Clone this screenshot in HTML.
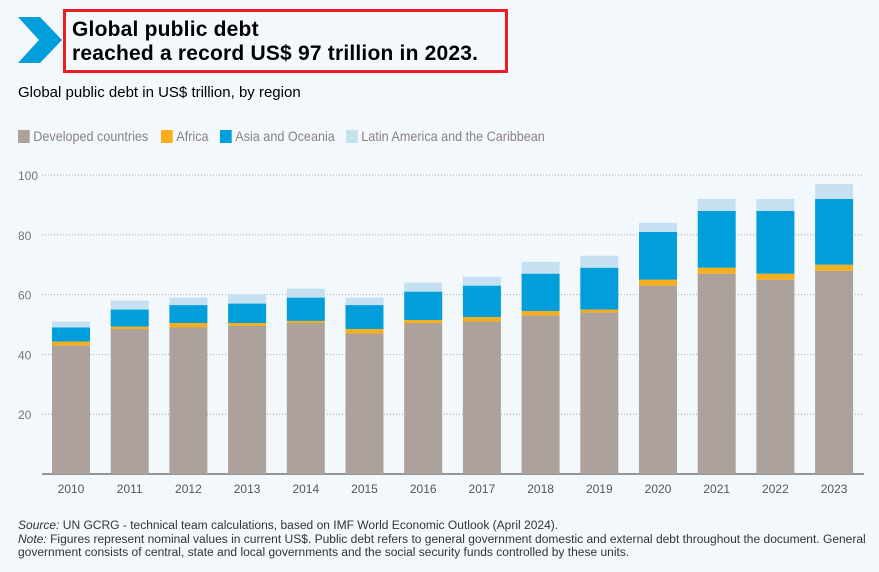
<!DOCTYPE html>
<html><head><meta charset="utf-8"><style>
body{margin:0;width:879px;height:572px;background:#f3f8fc;font-family:"Liberation Sans",sans-serif;overflow:hidden;position:relative}
.abs{position:absolute}
#title{left:63px;top:9px;width:433px;height:58px;border:3px solid #ee1c25;font-weight:bold;font-size:21px;line-height:24px;padding:0 0 0 6px;box-sizing:content-box;letter-spacing:0.2px}
#title div{padding-top:6px}
.leg{position:absolute;top:128px;font-size:14px;color:#8a8180;transform:scaleX(0.9);transform-origin:left}
.sq{display:inline-block;width:13px;height:13px;vertical-align:-2px;margin-right:4px}
.foot{left:18px;font-size:11.5px;color:#333;line-height:13.5px;white-space:nowrap;transform:scaleX(1.045);transform-origin:left}
</style></head><body>
<svg class="abs" style="left:18px;top:17px" width="46" height="48"><polygon points="0,0 22,0 44,23 22,46 0,46 21,23" fill="#009edb"/></svg>
<div id="title" class="abs"><div>Global public debt<br>reached a record US$ 97 trillion in 2023.</div></div>
<div class="abs" style="left:18px;top:84px;font-size:15px">Global public debt in US$ trillion, by region</div>
<div class="leg" style="left:18px"><span class="sq" style="background:#ada19b"></span>Developed countries</div>
<div class="leg" style="left:161px"><span class="sq" style="background:#f9ae1b"></span>Africa</div>
<div class="leg" style="left:220px"><span class="sq" style="background:#009edb"></span>Asia and Oceania</div>
<div class="leg" style="left:346px"><span class="sq" style="background:#c5e0f0"></span>Latin America and the Caribbean</div>
<svg id="chart" class="abs" style="left:0;top:160px" width="879" height="340"></svg>
<div class="abs foot" style="top:520px"><i>Source:</i> UN GCRG - technical team calculations, based on IMF World Economic Outlook (April 2024).<br><i>Note:</i> Figures represent nominal values in current US$. Public debt refers to general government domestic and external debt throughout the document. General<br>government consists of central, state and local governments and the social security funds controlled by these units.</div>
<script>
const years=["2010","2011","2012","2013","2014","2015","2016","2017","2018","2019","2020","2021","2022","2023"];
const developed=[43,48.5,49,49.5,50.5,47,50.5,51,53,54,63,67,65,68];
const africa=[1.3,0.8,1.5,1,0.7,1.5,1,1.5,1.5,1,2,2,2,2];
const asia=[4.7,5.7,6,6.5,7.8,8,9.5,10.5,12.5,14,16,19,21,22];
const latam=[2,3,2.5,3,3,2.5,3,3,4,4,3,4,4,5];
const yTicks=[20,40,60,80,100];
const colors=["#ada19b","#f9ae1b","#009edb","#c5e0f0"];
const names=["developed","africa","asia","latam"];
const svg=document.getElementById('chart');const NS="http://www.w3.org/2000/svg";
const y0=314,k=2.99;const Y=v=>y0-v*k;const X=i=>71+i*58.7;
function mk(t,a){const e=document.createElementNS(NS,t);for(const q in a)e.setAttribute(q,a[q]);svg.appendChild(e);return e;}
yTicks.forEach(t=>{const l=mk('line',{x1:42,x2:864,y1:Y(t),y2:Y(t),stroke:'#999','stroke-dasharray':'1,2','stroke-width':0.8});


const tx=mk('text',{x:18,y:Y(t)+5,'font-size':12,fill:'#777'});tx.textContent=t;

});
const ax=mk('line',{x1:42,x2:864,y1:y0,y2:y0,stroke:'#333','stroke-width':1});


const series=[developed,africa,asia,latam];
years.forEach((yr,i)=>{let base=0;series.forEach((s,j)=>{const r=mk('rect',{x:X(i)-19,width:38,y:Y(base+s[i]),height:s[i]*k,fill:colors[j]});


base+=s[i];});
const tx=mk('text',{x:X(i),y:y0+19,'font-size':12,fill:'#555','text-anchor':'middle'});tx.textContent=yr;

});
</script>
</body></html>
